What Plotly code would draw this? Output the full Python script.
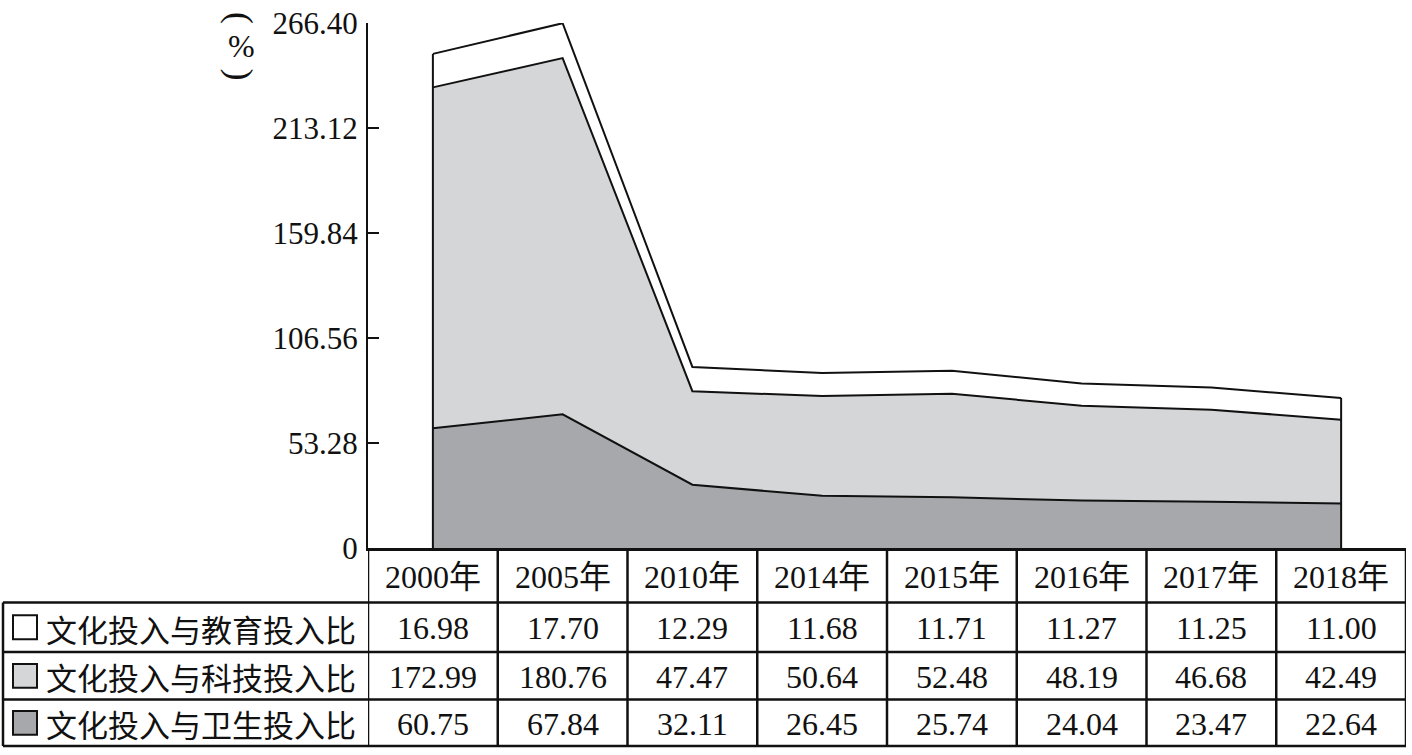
import plotly.graph_objects as go
import numpy as np

# ---------------- data ----------------
years = ["2000年", "2005年", "2010年", "2014年", "2015年", "2016年", "2017年", "2018年"]
edu = [16.98, 17.70, 12.29, 11.68, 11.71, 11.27, 11.25, 11.00]
tech = [172.99, 180.76, 47.47, 50.64, 52.48, 48.19, 46.68, 42.49]
health = [60.75, 67.84, 32.11, 26.45, 25.74, 24.04, 23.47, 22.64]
series_names = ["文化投入与教育投入比", "文化投入与科技投入比", "文化投入与卫生投入比"]
ytick_vals = [0, 53.28, 106.56, 159.84, 213.12, 266.40]
ytick_text = ["0", "53.28", "106.56", "159.84", "213.12", "266.40"]
y_unit = "%"

# ---------------- styling ----------------
W_FIG, H_FIG = 1412, 755
L, R, T, B = 368, 1406, 18, 548      # plot area in pixels
PW, PH = R - L, B - T
FONT = "Liberation Serif, Noto Sans CJK SC, serif"
CJK = "Noto Sans CJK SC, Liberation Serif"
C_WHITE, C_LIGHT, C_DARK = "#ffffff", "#d5d6d8", "#a7a8ab"
LINE = "#111111"

def px(x):
    return (x - L) / PW

def py(y):
    return (B - y) / PH

fig = go.Figure()

# stacked areas (bottom -> top)
fig.add_trace(go.Scatter(x=years, y=health, stackgroup="s", mode="lines",
                         line=dict(color=LINE, width=2), fillcolor=C_DARK,
                         name=series_names[2]))
fig.add_trace(go.Scatter(x=years, y=tech, stackgroup="s", mode="lines",
                         line=dict(color=LINE, width=2), fillcolor=C_LIGHT,
                         name=series_names[1]))
fig.add_trace(go.Scatter(x=years, y=edu, stackgroup="s", mode="lines",
                         line=dict(color=LINE, width=2), fillcolor=C_WHITE,
                         name=series_names[0]))

# vertical edges at first and last category
total = np.array(edu) + np.array(tech) + np.array(health)
fig.add_trace(go.Scatter(x=[years[0], years[0], None, years[-1], years[-1]],
                         y=[0, total[0], None, 0, total[-1]],
                         mode="lines", line=dict(color=LINE, width=2),
                         showlegend=False, hoverinfo="skip"))

shapes = []
annotations = []

# ---------------- table ----------------
row_edges = [548, 603, 653, 701, 748]
tbl_left = 3
n = len(years)
lw = 2.5

# horizontal lines
for yy in row_edges[1:]:
    shapes.append(dict(type="line", xref="paper", yref="paper",
                       x0=px(tbl_left), x1=px(R), y0=py(yy), y1=py(yy),
                       line=dict(color=LINE, width=lw)))
# vertical lines
for i in range(n + 1):
    shapes.append(dict(type="line", xref="x", yref="paper",
                       x0=i - 0.5, x1=i - 0.5, y0=py(row_edges[0]), y1=py(row_edges[-1]),
                       line=dict(color=LINE, width=lw)))
shapes.append(dict(type="line", xref="paper", yref="paper",
                   x0=px(tbl_left), x1=px(tbl_left), y0=py(row_edges[1]), y1=py(row_edges[-1]),
                   line=dict(color=LINE, width=lw)))

# header text
hdr_c = (row_edges[0] + row_edges[1]) / 2
for yr in years:
    annotations.append(dict(x=yr, y=py(hdr_c + 2), xref="x", yref="paper",
                            text=yr, showarrow=False,
                            font=dict(family=FONT, size=32, color="#111111"),
                            xanchor="center", yanchor="middle"))

rows = [edu, tech, health]
fills = [C_WHITE, C_LIGHT, C_DARK]
for r, (vals, name, fc) in enumerate(zip(rows, series_names, fills)):
    yc = (row_edges[r + 1] + row_edges[r + 2]) / 2
    for yr, v in zip(years, vals):
        annotations.append(dict(x=yr, y=py(yc + 1), xref="x", yref="paper",
                                text=f"{v:.2f}", showarrow=False,
                                font=dict(family=FONT, size=32, color="#111111"),
                                xanchor="center", yanchor="middle"))
    # legend square
    shapes.append(dict(type="rect", xref="paper", yref="paper",
                       x0=px(13), x1=px(37), y0=py(yc + 12), y1=py(yc - 12),
                       fillcolor=fc, line=dict(color=LINE, width=2)))
    annotations.append(dict(x=px(44), y=py(yc + 1), xref="paper", yref="paper",
                            text=name, showarrow=False,
                            font=dict(family=CJK, size=31, color="#111111"),
                            xanchor="left", yanchor="middle"))

# y unit label (vertical: rotated brackets with upright %)
annotations.append(dict(x=px(240), y=py(13), xref="paper", yref="paper",
                        text="(", textangle=90, showarrow=False,
                        font=dict(family=FONT, size=36, color="#111111"),
                        xanchor="center", yanchor="middle"))
annotations.append(dict(x=px(241), y=py(41), xref="paper", yref="paper",
                        text=y_unit, showarrow=False,
                        font=dict(family=FONT, size=32, color="#111111"),
                        xanchor="center", yanchor="middle"))
annotations.append(dict(x=px(240), y=py(70), xref="paper", yref="paper",
                        text=")", textangle=90, showarrow=False,
                        font=dict(family=FONT, size=36, color="#111111"),
                        xanchor="center", yanchor="middle"))

fig.update_layout(
    width=W_FIG, height=H_FIG,
    margin=dict(l=L, r=W_FIG - R, t=T, b=H_FIG - B, pad=0),
    paper_bgcolor="white", plot_bgcolor="white",
    showlegend=False,
    xaxis=dict(type="category", range=[-0.5, n - 0.5], showticklabels=False,
               showgrid=False, zeroline=False, showline=True,
               linecolor=LINE, linewidth=lw, ticks=""),
    yaxis=dict(range=[0, 266.40], tickvals=ytick_vals, ticktext=ytick_text,
               showgrid=False, zeroline=False, showline=True,
               linecolor=LINE, linewidth=2, ticks="inside", ticklen=11,
               tickwidth=2, tickcolor=LINE,
               tickfont=dict(family=FONT, size=31, color="#111111"),
               ticklabelstandoff=2),
    shapes=shapes, annotations=annotations,
)

fig.write_html("out.html", config={"displayModeBar": False},
               post_script="document.body.style.margin='0';document.body.style.overflow='hidden';")
